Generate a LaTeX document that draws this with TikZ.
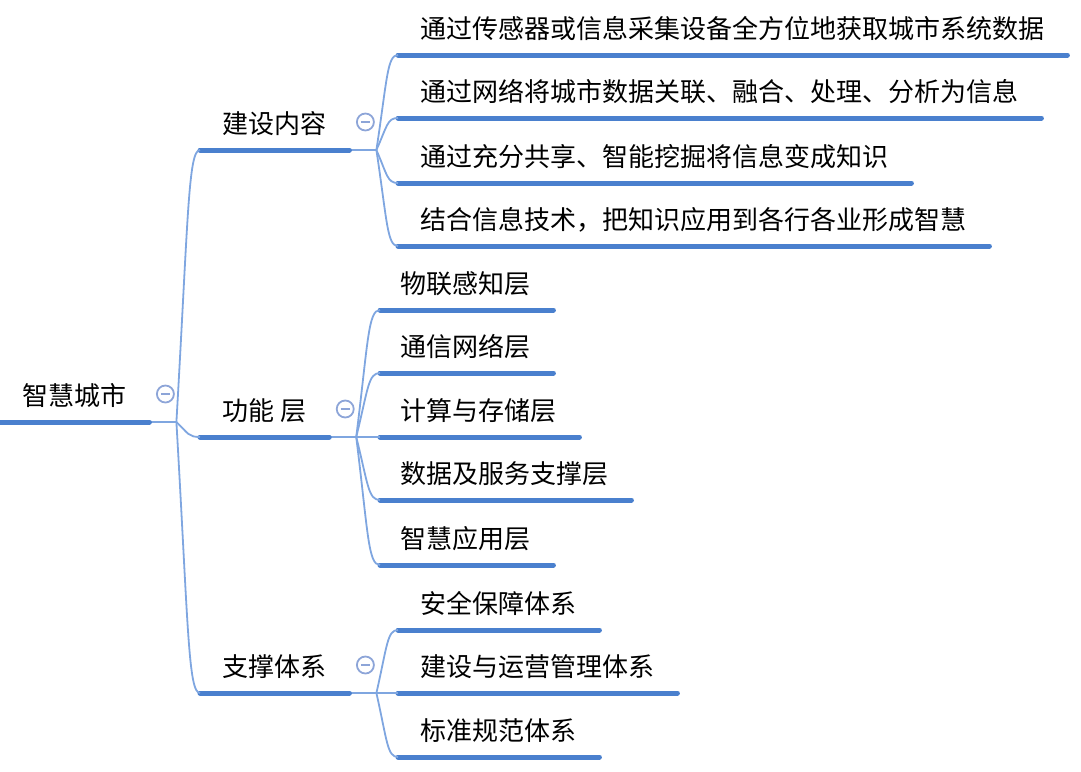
\documentclass[tikz,border=0pt]{standalone}
\usepackage{fontspec}
\setmainfont{Noto Sans CJK SC}
\usetikzlibrary{calc}
\definecolor{thickblue}{HTML}{4A80CE}
\definecolor{thinblue}{HTML}{7FA6E0}
\definecolor{circ}{HTML}{8DA5D8}
\tikzset{
  lbl/.style={anchor=base west, inner sep=0pt, font=\fontsize{26}{30}\selectfont, text=black},
  uline/.style={draw=thickblue, line width=5pt, line cap=round},
  conn/.style={draw=thinblue, line width=1.8pt},
  fold/.style={circle, draw=circ, line width=1.8pt, minimum size=17pt, inner sep=0pt,
    path picture={\draw[circ, line width=1.8pt] ([xshift=-4.5pt]path picture bounding box.center) -- ([xshift=4.5pt]path picture bounding box.center);}},
}
\newcommand\mmparent[3]{%
  \node[lbl] (#1) at (#2) {#3};
  \coordinate (#1L) at ($(#1.base west)+(-22,17)$);
  \coordinate (#1R) at ($(#1.base east)+(23,17)$);
  \coordinate (#1J) at ($(#1R)+(27,0)$);
  \node[fold] (#1F) at ($(#1R)+(16,-28)$) {};
  \draw[conn] (#1R) -- (#1J);
  \draw[uline] (#1L) -- (#1R);
}
\newcommand\mmleaf[4]{%
  \node[lbl] (#1) at (#2) {#3};
  \coordinate (#1L) at ($(#1.base west)+(-#4,17)$);
  \coordinate (#1R) at ($(#1.base east)+(23,17)$);
  \draw[uline] (#1L) -- (#1R);
}
\newcommand\mmlink[2]{%
  \draw[conn] let \p1=(#1), \p2=(#2) in (#1) .. controls ({\x1+0.5*(\x2-\x1)},{\y1+0.75*(\y2-\y1)}) and ({\x1+0.5*(\x2-\x1)},\y2) .. (#2);
}
\begin{document}
\begin{tikzpicture}[x=1pt,y=-1pt]
\useasboundingbox (0,0) rectangle (1081,771);
% root
\mmparent{r}{22,405}{智慧城市}
% level 1
\mmparent{a}{222,133}{建设内容}
\mmparent{b}{222,420}{功能 层}
\mmparent{c}{222,676}{支撑体系}
\mmlink{rJ}{aL}
\mmlink{rJ}{bL}
\mmlink{rJ}{cL}
% children of a
\mmleaf{a1}{420,38}{通过传感器或信息采集设备全方位地获取城市系统数据}{22}
\mmleaf{a2}{420,101}{通过网络将城市数据关联、融合、处理、分析为信息}{22}
\mmleaf{a3}{420,166}{通过充分共享、智能挖掘将信息变成知识}{22}
\mmleaf{a4}{420,229}{结合信息技术，把知识应用到各行各业形成智慧}{22}
\foreach \k in {a1,a2,a3,a4} {\mmlink{aJ}{\k L}}
% children of b
\mmleaf{b1}{400,293}{物联感知层}{20}
\mmleaf{b2}{400,356}{通信网络层}{20}
\mmleaf{b3}{400,420}{计算与存储层}{20}
\mmleaf{b4}{400,483}{数据及服务支撑层}{20}
\mmleaf{b5}{400,548}{智慧应用层}{20}
\foreach \k in {b1,b2,b3,b4,b5} {\mmlink{bJ}{\k L}}
% children of c
\mmleaf{c1}{420,613}{安全保障体系}{22}
\mmleaf{c2}{420,676}{建设与运营管理体系}{22}
\mmleaf{c3}{420,740}{标准规范体系}{22}
\foreach \k in {c1,c2,c3} {\mmlink{cJ}{\k L}}
\end{tikzpicture}
\end{document}
